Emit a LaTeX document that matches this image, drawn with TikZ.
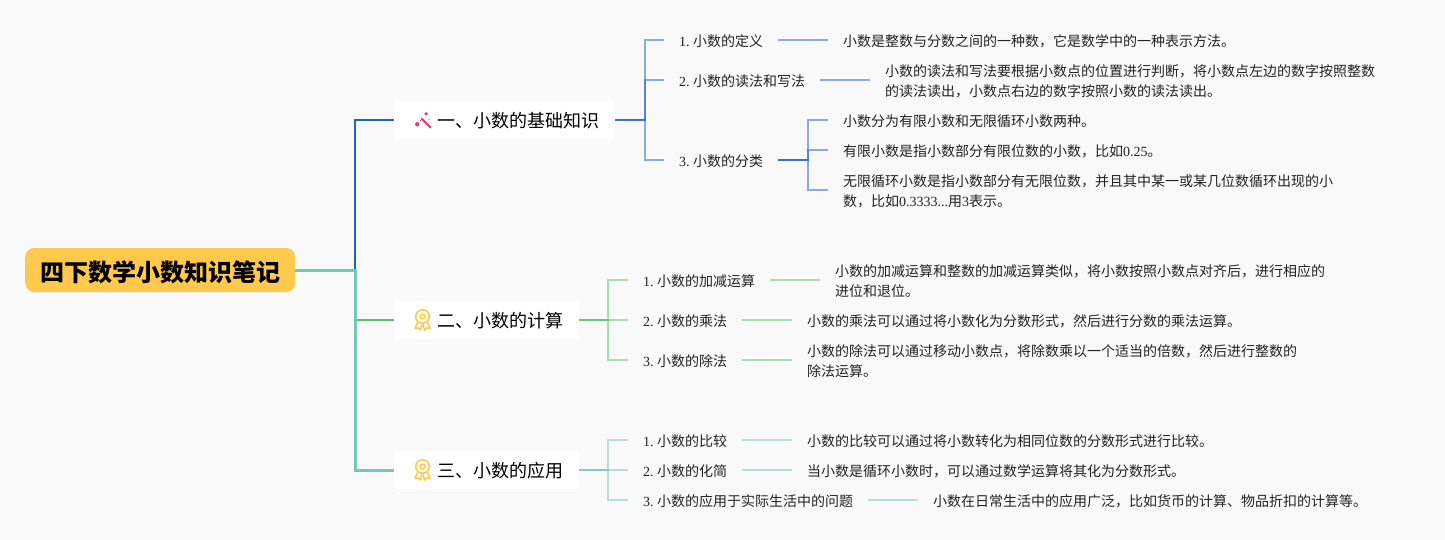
\documentclass[tikz,border=0pt]{standalone}
\usepackage{fontspec}
\setmainfont{Noto Sans CJK SC}
\newfontfamily\latfont{Liberation Serif}
\newcommand{\lat}[1]{{\latfont #1}}
\newcommand{\nb}[2]{\mbox{\lat{#1.}\hspace{3.5pt}#2}}
\definecolor{bgc}{HTML}{F9F9FA}
\definecolor{blueL}{HTML}{1F5FD0}
\definecolor{greenL}{HTML}{55C070}
\definecolor{tealL}{HTML}{74C9B6}
\definecolor{gold}{HTML}{FFC94D}
\definecolor{pinkI}{HTML}{E8336D}
\definecolor{inkT}{HTML}{222222}
\tikzset{
  rootbox/.style={fill=gold,rounded corners=9pt,anchor=west,inner sep=0pt,minimum height=44pt,minimum width=270pt,text height=25pt,text depth=3pt,font=\fontsize{24}{28}\selectfont\bfseries,text=black},
  mainbox/.style={fill=white,rounded corners=3pt,anchor=west,inner sep=0pt,minimum height=38pt,minimum width=#1,text height=18pt,text depth=3pt,font=\fontsize{18}{22}\selectfont,text=black},
  textbox/.style={anchor=west,inner xsep=15pt,inner ysep=0pt,text width=#1,align=left,font=\fontsize{14}{20}\selectfont,text=inkT},
  oneline/.style={textbox=#1,text height=14.5pt,text depth=1.5pt},
  trunk/.style={line width=2pt,#1},
  sub/.style={line width=2pt,draw opacity=0.5,#1},
}
\begin{document}
\begin{tikzpicture}[x=1pt,y=-1pt]
\useasboundingbox (0,0) rectangle (1445,540);
\fill[bgc] (0,0) rectangle (1445,540);
% main nodes
\node[rootbox] (root) at (25,270) {四下数学小数知识笔记};
\node[mainbox=221pt] (ma) at (394,120) {\hspace{27pt}一、小数的基础知识};
\node[mainbox=185pt] (mb) at (394,320) {\hspace{27pt}二、小数的计算};
\node[mainbox=185pt] (mc) at (394,470) {\hspace{27pt}三、小数的应用};
% level 2, branch 1
\node[oneline=84pt] (a1) at (664,40) {\nb{1}{小数的定义}};
\node[oneline=126pt] (a2) at (664,80) {\nb{2}{小数的读法和写法}};
\node[oneline=84pt] (a3) at (664,160) {\nb{3}{小数的分类}};
\node[oneline=400pt] (a1x) at (828,40) {小数是整数与分数之间的一种数，它是数学中的一种表示方法。};
\node[textbox=500pt] (a2x) at (870,81) {小数的读法和写法要根据小数点的位置进行判断，将小数点左边的数字按照整数\\的读法读出，小数点右边的数字按照小数的读法读出。};
\node[oneline=400pt] (a3x) at (828,120) {小数分为有限小数和无限循环小数两种。};
\node[oneline=400pt] (a3y) at (828,150) {有限小数是指小数部分有限位数的小数，比如\lat{0.25}。};
\node[textbox=500pt] (a3z) at (828,191.5) {无限循环小数是指小数部分有无限位数，并且其中某一或某几位数循环出现的小\\数，比如\lat{0.3333...}用\lat{3}表示。};
% level 2, branch 2
\node[oneline=112pt] (b1) at (628,280) {\nb{1}{小数的加减运算}};
\node[oneline=84pt] (b2) at (628,320) {\nb{2}{小数的乘法}};
\node[oneline=84pt] (b3) at (628,360) {\nb{3}{小数的除法}};
\node[textbox=500pt] (b1x) at (820,281) {小数的加减运算和整数的加减运算类似，将小数按照小数点对齐后，进行相应的\\进位和退位。};
\node[oneline=500pt] (b2x) at (792,320) {小数的乘法可以通过将小数化为分数形式，然后进行分数的乘法运算。};
\node[textbox=500pt] (b3x) at (792,361) {小数的除法可以通过移动小数点，将除数乘以一个适当的倍数，然后进行整数的\\除法运算。};
% level 2, branch 3
\node[oneline=84pt] (c1) at (628,440) {\nb{1}{小数的比较}};
\node[oneline=84pt] (c2) at (628,470) {\nb{2}{小数的化简}};
\node[oneline=210pt] (c3) at (628,500) {\nb{3}{小数的应用于实际生活中的问题}};
\node[oneline=500pt] (c1x) at (792,440) {小数的比较可以通过将小数转化为相同位数的分数形式进行比较。};
\node[oneline=500pt] (c2x) at (792,470) {当小数是循环小数时，可以通过数学运算将其化为分数形式。};
\node[oneline=500pt] (c3x) at (918,500) {小数在日常生活中的应用广泛，比如货币的计算、物品折扣的计算等。};
% trunk connectors
\draw[trunk=blueL] (root.east) -- ++(60,0) |- (ma.west);
\draw[trunk=greenL] (root.east) -- ++(60,0) |- (mb.west);
\draw[trunk=tealL,line width=3pt] (root.east) -- ++(60,0) |- (mc.west);
% branch 1 connectors
\foreach \t in {a1,a2,a3} \draw[sub=blueL] (ma.east) -- ++(30,0) |- (\t.west);
\draw[sub=blueL] (a1.east) -- (a1x.west);
\draw[sub=blueL] (a2.east) -- (a2.east -| a2x.west);
\foreach \t in {a3x,a3y} \draw[sub=blueL] (a3.east) -- ++(30,0) |- (\t.west);
\draw[sub=blueL] (a3.east) -- ++(30,0) |- ([yshift=1.5pt]a3z.west);
% branch 2 connectors
\foreach \t in {b1,b2,b3} \draw[sub=greenL] (mb.east) -- ++(29,0) |- (\t.west);
\draw[sub=greenL] (b1.east) -- (b1.east -| b1x.west);
\draw[sub=greenL] (b2.east) -- (b2x.west);
\draw[sub=greenL] (b3.east) -- (b3.east -| b3x.west);
% branch 3 connectors
\foreach \t in {c1,c2,c3} \draw[sub=tealL] (mc.east) -- ++(29,0) |- (\t.west);
\draw[sub=tealL] (c1.east) -- (c1x.west);
\draw[sub=tealL] (c2.east) -- (c2x.west);
\draw[sub=tealL] (c3.east) -- (c3x.west);
% wand icon
\draw[pinkI,line width=2pt,line cap=round] (421.5,118.5) -- (430.5,127.5);
\fill[pinkI] (417.3,124.3) circle (2.2pt);
\fill[pinkI] (426,113.8) circle (1.8pt);
\fill[pinkI] (420.5,120.5) circle (0.7pt);
\fill[pinkI] (429,119.5) circle (0.7pt);
% badge icons
\foreach \cy in {316.5,466.5}{
  \draw[gold,line width=1.6pt] (422.5,\cy) circle (6.8pt);
  \draw[gold,line width=1.4pt] (422.5,\cy) circle (2.4pt);
  \draw[gold,line width=1.6pt,line join=round] (417.5,\cy+6) -- (415,\cy+12) -- (418.5,\cy+11.5) -- (420.5,\cy+13.5) -- (422,\cy+8);
  \draw[gold,line width=1.6pt,line join=round] (427.5,\cy+6) -- (430,\cy+12) -- (426.5,\cy+11.5) -- (424.5,\cy+13.5) -- (423,\cy+8);
}
\end{tikzpicture}
\end{document}
